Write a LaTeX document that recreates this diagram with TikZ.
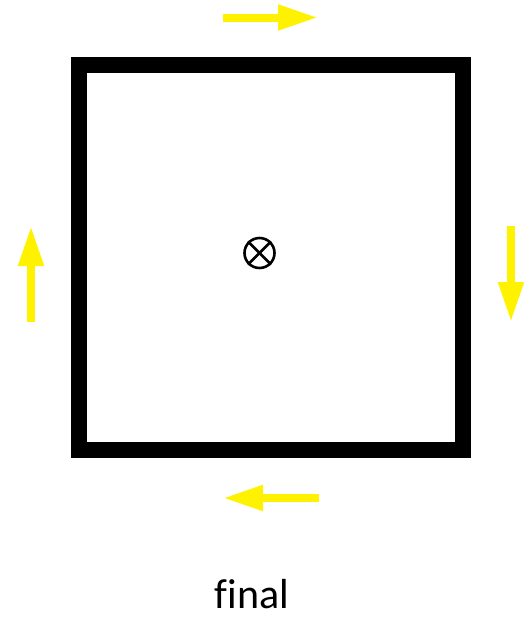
\documentclass[tikz,border=0pt]{standalone}
\usepackage{fontspec}
\setmainfont{Carlito}[Ligatures=NoCommon]
\usetikzlibrary{arrows.meta}
\tikzset{
  yarrow/.style={draw=yellow, line width=8pt, -{Triangle[length=40pt,width=24pt]}},
  frame/.style={draw=black, line width=16pt, minimum width=384pt, minimum height=385pt, inner sep=0pt},
  otimes/.style={circle, draw=black, line width=2.6pt, minimum size=30pt, inner sep=0pt},
  cross/.style={draw=black, line width=2.6pt},
  label/.style={font=\fontsize{42}{48}\selectfont, anchor=base, inner sep=0pt}
}
\begin{document}
\begin{tikzpicture}[x=1pt, y=-1pt]
\useasboundingbox (0,0) rectangle (524,622);
\node[frame] (box) at (271,257.5) {};
\node[otimes] (c) at (259.5,253) {};
\draw[cross] (c.north west) -- (c.south east);
\draw[cross] (c.north east) -- (c.south west);
\coordinate (t1) at (223,17.5);
\coordinate (t2) at (318,17.5);
\coordinate (b1) at (319,498);
\coordinate (b2) at (223,498);
\coordinate (l1) at (31,322);
\coordinate (l2) at (31,226);
\coordinate (r1) at (511,226);
\coordinate (r2) at (511,322);
\draw[yarrow] (t1) -- (t2);
\draw[yarrow] (b1) -- (b2);
\draw[yarrow] (l1) -- (l2);
\draw[yarrow] (r1) -- (r2);
\node[label] (final) at (252,608) {final};
\end{tikzpicture}
\end{document}
